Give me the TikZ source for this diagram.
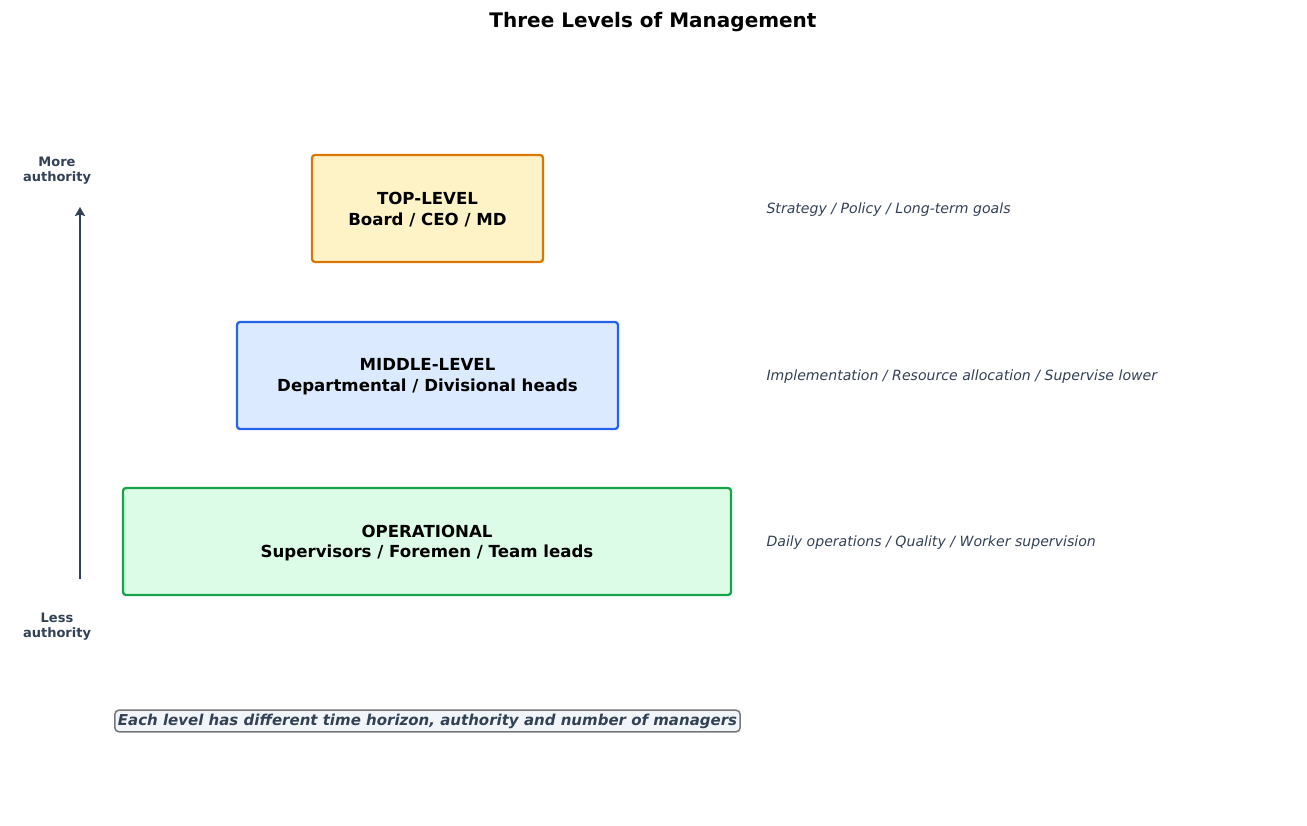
\documentclass[tikz,border=0pt]{standalone}
\usepackage{fontspec}
\setmainfont{DejaVu Sans}
\usetikzlibrary{arrows.meta}
\definecolor{topfill}{HTML}{FEF3C7}
\definecolor{topdraw}{HTML}{D97706}
\definecolor{midfill}{HTML}{DBEAFE}
\definecolor{middraw}{HTML}{2563EB}
\definecolor{opfill}{HTML}{DCFCE7}
\definecolor{opdraw}{HTML}{16A34A}
\definecolor{slate}{HTML}{334155}
\definecolor{notefill}{HTML}{F1F5F9}
\definecolor{notedraw}{HTML}{777777}
\tikzset{
  levelbox/.style={draw, line width=2.3pt, rounded corners=3pt, inner sep=0pt, minimum height=107pt},
  leveltext/.style={align=center, inner sep=0pt, font=\fontsize{16.6}{20.8}\selectfont\bfseries},
  sidetext/.style={anchor=west, text=slate, font=\fontsize{14.1}{16}\selectfont\itshape},
  authtext/.style={align=center, text=slate, font=\fontsize{13}{14.5}\selectfont\bfseries},
}
\begin{document}
\begin{tikzpicture}[x=1pt,y=-1pt]
\useasboundingbox (0,0) rectangle (1307,826);
\node (title) at (653,22.5) {\fontsize{20}{22}\selectfont\bfseries Three Levels of Management};
\node[levelbox, fill=topfill, draw=topdraw, minimum width=231pt] (top) at (427.5,208.5) {};
\node[leveltext] (topt) at (427.5,210) {TOP-LEVEL\\Board / CEO / MD};
\node[levelbox, fill=midfill, draw=middraw, minimum width=381pt] (mid) at (427.5,375.5) {};
\node[leveltext] (midt) at (427.5,377) {MIDDLE-LEVEL\\Departmental / Divisional heads};
\node[levelbox, fill=opfill, draw=opdraw, minimum width=608pt] (op) at (427,541.5) {};
\node[leveltext] (opt) at (427,543) {OPERATIONAL\\Supervisors / Foremen / Team leads};
\node[sidetext] (s1) at (763,209.5) {Strategy / Policy / Long-term goals};
\node[sidetext] (s2) at (763,376.5) {Implementation / Resource allocation / Supervise lower};
\node[sidetext] (s3) at (763,542.5) {Daily operations / Quality / Worker supervision};
\coordinate (abot) at (80,578.5);
\coordinate (atop) at (80,207);
\draw[slate, line width=2.7pt, -{Stealth[length=9pt,width=10pt,inset=1.5pt]}] (abot) -- (atop);
\node[authtext] (more) at (57,170.5) {More\\authority};
\node[authtext] (less) at (57,626.5) {Less\\authority};
\node[draw=notedraw, fill=notefill, line width=1.5pt, rounded corners=4pt, inner xsep=3pt, inner ysep=3.5pt, text=slate, font=\fontsize{15}{17}\selectfont\bfseries\itshape] (note) at (427.5,721) {Each level has different time horizon, authority and number of managers};
\end{tikzpicture}
\end{document}
